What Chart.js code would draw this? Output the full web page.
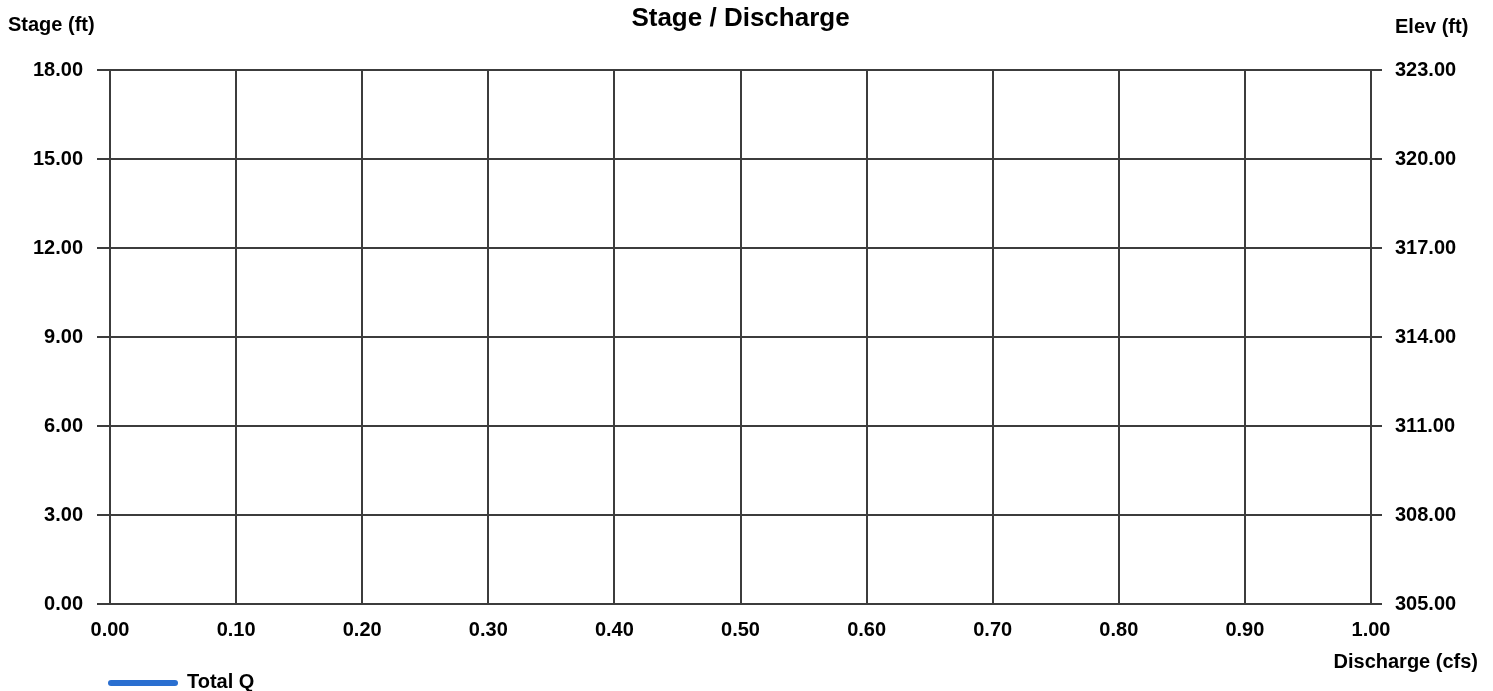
<!DOCTYPE html>
<html lang="en">
<head>
    <meta charset="UTF-8">
    <title>Stage / Discharge</title>
    <script src="https://cdn.jsdelivr.net/npm/chart.js"></script>
    <style>
        html, body { margin: 0; padding: 0; background: #fff; }
        #wrap { width: 1493px; height: 691px; }
    </style>
</head>
<body>
<div id="wrap"><canvas id="stageChart" width="1493" height="691"></canvas></div>

<script type="text/javascript">
    // Data (the reference shows no plotted points for Total Q)
    const discharge = [];
    const stage = [];

    // Axis ranges / tick steps
    const xRange = [0, 1, 0.1];
    const stageRange = [0, 18, 3];
    const elevRange = [305, 323, 3];

    const chartTitle = 'Stage / Discharge';
    const seriesName = 'Total Q';
    const seriesColor = '#2a6fd0';
    const gridColor = '#3c3c3c';
    const fontFamily = '"Liberation Sans", Arial, sans-serif';

    const labelFont = { family: fontFamily, size: 20, weight: 'bold' };

    // Draws title, axis captions and the legend
    const captions = {
        id: 'captions',
        afterDraw(chart) {
            const ctx = chart.ctx;
            const area = chart.chartArea;
            ctx.save();
            ctx.fillStyle = '#000';
            ctx.textBaseline = 'middle';

            ctx.font = 'bold 26px ' + fontFamily;
            ctx.textAlign = 'center';
            ctx.fillText(chartTitle, (area.left + area.right) / 2, 19);

            ctx.font = 'bold 20px ' + fontFamily;
            ctx.textAlign = 'left';
            ctx.fillText('Stage (ft)', 8, 25);
            ctx.fillText('Elev (ft)', area.right + 24, 27);

            ctx.textAlign = 'right';
            ctx.fillText('Discharge (cfs)', chart.width - 15, 662);

            // legend
            ctx.strokeStyle = seriesColor;
            ctx.lineWidth = 6;
            ctx.lineCap = 'round';
            ctx.beginPath();
            ctx.moveTo(area.left + 1, 683);
            ctx.lineTo(area.left + 65, 683);
            ctx.stroke();
            ctx.textAlign = 'left';
            ctx.fillText(seriesName, area.left + 77, 682);
            ctx.restore();
        }
    };

    const ctx = document.getElementById('stageChart').getContext('2d');
    const chart = new Chart(ctx, {
        type: 'line',
        data: {
            datasets: [{
                label: seriesName,
                data: discharge.map((q, i) => ({ x: q, y: stage[i] })),
                borderColor: seriesColor,
                backgroundColor: seriesColor,
                borderWidth: 3,
                pointRadius: 0,
                yAxisID: 'y'
            }]
        },
        options: {
            responsive: false,
            animation: false,
            layout: { padding: { top: 70, left: 0, right: 0, bottom: 0 } },
            plugins: {
                legend: { display: false },
                title: { display: false },
                tooltip: { enabled: false }
            },
            scales: {
                x: {
                    type: 'linear',
                    min: xRange[0],
                    max: xRange[1],
                    ticks: {
                        stepSize: xRange[2],
                        color: '#000',
                        font: labelFont,
                        padding: 14,
                        maxRotation: 0,
                        callback: v => v.toFixed(2)
                    },
                    grid: { color: gridColor, lineWidth: 2, drawTicks: false },
                    border: { color: gridColor, width: 2 },
                    afterFit(scale) { scale.height = 87; }
                },
                y: {
                    position: 'left',
                    min: stageRange[0],
                    max: stageRange[1],
                    ticks: {
                        stepSize: stageRange[2],
                        color: '#000',
                        font: labelFont,
                        padding: 14,
                        callback: v => v.toFixed(2)
                    },
                    grid: { color: gridColor, lineWidth: 2, tickLength: 13 },
                    border: { color: gridColor, width: 2 },
                    afterFit(scale) { scale.width = 110; }
                },
                y2: {
                    position: 'right',
                    min: elevRange[0],
                    max: elevRange[1],
                    ticks: {
                        stepSize: elevRange[2],
                        color: '#000',
                        font: labelFont,
                        padding: 13,
                        callback: v => v.toFixed(2)
                    },
                    grid: { color: gridColor, lineWidth: 2, tickLength: 11, drawOnChartArea: false },
                    border: { color: gridColor, width: 2 },
                    afterFit(scale) { scale.width = 122; }
                }
            }
        },
        plugins: [captions]
    });
</script>
</body>
</html>
